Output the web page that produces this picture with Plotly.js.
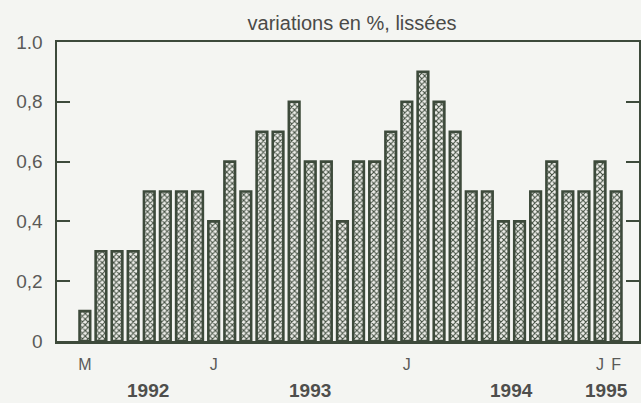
<!DOCTYPE html>
<html>
<head>
<meta charset="utf-8">
<script src="https://cdn.plot.ly/plotly-3.0.1.min.js"></script>
<style>
  html, body { margin: 0; padding: 0; background: #f4f5f2; }
  #chart { width: 641px; height: 403px; }
</style>
</head>
<body>
<div id="chart"></div>
<script>
// Monthly smoothed variations, May 1992 – February 1995
const months = ["1992-05","1992-06","1992-07","1992-08","1992-09","1992-10","1992-11","1992-12",
                "1993-01","1993-02","1993-03","1993-04","1993-05","1993-06","1993-07","1993-08","1993-09","1993-10","1993-11","1993-12",
                "1994-01","1994-02","1994-03","1994-04","1994-05","1994-06","1994-07","1994-08","1994-09","1994-10","1994-11","1994-12",
                "1995-01","1995-02"];
const values = [0.1,0.3,0.3,0.3,0.5,0.5,0.5,0.5,
                0.4,0.6,0.5,0.7,0.7,0.8,0.6,0.6,0.4,0.6,0.6,0.7,
                0.8,0.9,0.8,0.7,0.5,0.5,0.4,0.4,0.5,0.6,0.5,0.5,
                0.6,0.5];
const monthTickIdx = [0, 8, 20, 32, 33];
const monthTickText = ["M", "J", "J", "J", "F"];
const yTickVals = [0, 0.2, 0.4, 0.6, 0.8, 1.0];
const yTickText = ["0", "0,2", "0,4", "0,6", "0,8", "1.0"];
const yearLabels = ["1992", "1993", "1994", "1995"];
const yearPos = [3.9, 14.0, 26.5, 32.4];
const titleText = "variations en %, lissées";

const dark = "#3d4a3b";
const idx = months.map((m, i) => i);

const trace = {
  type: "bar",
  x: idx,
  y: values,
  width: 0.66,
  marker: {
    color: "#d6d6d0",
    line: { color: dark, width: 2.6 },
    pattern: { shape: "x", fgcolor: "#3f4b3d", bgcolor: "#eeeeea", size: 4, solidity: 0.45 }
  },
  hoverinfo: "skip"
};

const layout = {
  width: 641, height: 403,
  margin: { l: 57, r: 2, t: 42, b: 62 },
  paper_bgcolor: "#f4f5f2",
  plot_bgcolor: "#f4f5f2",
  showlegend: false,
  title: {
    text: titleText,
    font: { family: "Liberation Sans, Arial, sans-serif", size: 20, color: "#4a4a48" },
    x: 0.507, xanchor: "center", xref: "paper",
    y: 0.943, yanchor: "middle"
  },
  xaxis: {
    range: [-1.73, 34.42],
    showgrid: false, zeroline: false,
    showline: true, linecolor: dark, linewidth: 2.5, mirror: true,
    ticks: "",
    tickmode: "array", tickvals: monthTickIdx, ticktext: monthTickText,
    tickfont: { family: "Liberation Sans, Arial, sans-serif", size: 16, color: "#5a5a58" },
    ticklabelstandoff: 7
  },
  yaxis: {
    range: [0, 1.0],
    showgrid: false, zeroline: false,
    showline: true, linecolor: dark, linewidth: 2.5, mirror: "ticks",
    ticks: "inside", ticklen: 13, tickwidth: 2, tickcolor: dark,
    tickmode: "array", tickvals: yTickVals, ticktext: yTickText,
    tickfont: { family: "Liberation Sans, Arial, sans-serif", size: 19, color: "#5a5a58" },
    ticklabelstandoff: 8
  },
  annotations: yearLabels.map((t, i) => ({
    text: "<b>" + t + "</b>",
    x: yearPos[i], xref: "x",
    y: -0.165, yref: "paper",
    xanchor: "center", yanchor: "middle",
    showarrow: false,
    font: { family: "Liberation Sans, Arial, sans-serif", size: 19, color: "#4e4e4c" }
  }))
};

Plotly.newPlot("chart", [trace], layout, { displayModeBar: false, staticPlot: true });
</script>
</body>
</html>
